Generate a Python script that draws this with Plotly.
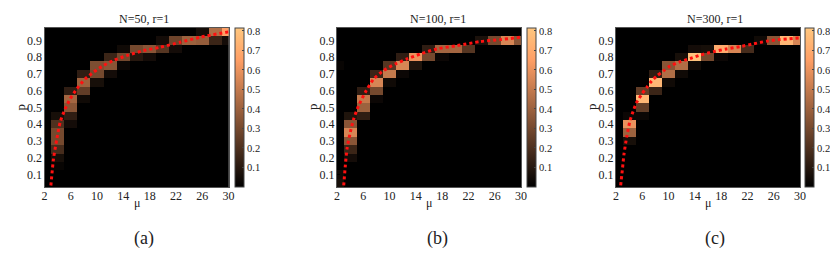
import plotly.graph_objects as go

# ---------------- data ----------------
mu_vals = [2, 4, 6, 8, 10, 12, 14, 16, 18, 20, 22, 24, 26, 28, 30]
p_vals = [0.95, 0.90, 0.85, 0.80, 0.75, 0.70, 0.65, 0.60, 0.55, 0.50,
          0.45, 0.40, 0.35, 0.30, 0.25, 0.20, 0.15, 0.10, 0.05]

titles = ["N=50, r=1", "N=100, r=1", "N=300, r=1"]
captions = ["(a)", "(b)", "(c)"]
x_ticks = [2, 6, 10, 14, 18, 22, 26, 30]
y_ticks = [0.1, 0.2, 0.3, 0.4, 0.5, 0.6, 0.7, 0.8, 0.9]
cb_ticks = [0.1, 0.2, 0.3, 0.4, 0.5, 0.6, 0.7, 0.8]

#            mu: 2    4     6     8     10    12    14    16    18    20    22    24    26    28    30
z_n50 = [
    [0,   0,    0,    0,    0,    0,    0,    0,    0,    0,    0,    0,    0.05, 0.45, 0.65],  # 0.95
    [0,   0,    0,    0,    0,    0,    0,    0,    0,    0.05, 0.28, 0.40, 0.38, 0.15, 0.05],  # 0.90
    [0,   0,    0,    0,    0,    0,    0.04, 0.30, 0.35, 0.22, 0.05, 0,    0,    0,    0],     # 0.85
    [0,   0,    0,    0,    0,    0.15, 0.30, 0.10, 0.05, 0,    0,    0,    0,    0,    0],     # 0.80
    [0,   0,    0,    0,    0.32, 0.35, 0.03, 0,    0,    0,    0,    0,    0,    0,    0],     # 0.75
    [0,   0,    0,    0.12, 0.30, 0.05, 0,    0,    0,    0,    0,    0,    0,    0,    0],     # 0.70
    [0,   0,    0,    0.40, 0.06, 0,    0,    0,    0,    0,    0,    0,    0,    0,    0],     # 0.65
    [0,   0,    0.12, 0.25, 0,    0,    0,    0,    0,    0,    0,    0,    0,    0,    0],     # 0.60
    [0,   0,    0.42, 0.04, 0,    0,    0,    0,    0,    0,    0,    0,    0,    0,    0],     # 0.55
    [0,   0,    0.35, 0,    0,    0,    0,    0,    0,    0,    0,    0,    0,    0,    0],     # 0.50
    [0,   0.06, 0.12, 0,    0,    0,    0,    0,    0,    0,    0,    0,    0,    0,    0],     # 0.45
    [0,   0.20, 0.05, 0,    0,    0,    0,    0,    0,    0,    0,    0,    0,    0,    0],     # 0.40
    [0,   0.30, 0,    0,    0,    0,    0,    0,    0,    0,    0,    0,    0,    0,    0],     # 0.35
    [0,   0.30, 0,    0,    0,    0,    0,    0,    0,    0,    0,    0,    0,    0,    0],     # 0.30
    [0,   0.18, 0,    0,    0,    0,    0,    0,    0,    0,    0,    0,    0,    0,    0],     # 0.25
    [0,   0.06, 0,    0,    0,    0,    0,    0,    0,    0,    0,    0,    0,    0,    0],     # 0.20
    [0,   0.02, 0,    0,    0,    0,    0,    0,    0,    0,    0,    0,    0,    0,    0],     # 0.15
    [0,   0,    0,    0,    0,    0,    0,    0,    0,    0,    0,    0,    0,    0,    0],     # 0.10
    [0,   0,    0,    0,    0,    0,    0,    0,    0,    0,    0,    0,    0,    0,    0],     # 0.05
]

z_n100 = [
    [0,    0,    0,    0,    0,    0,    0,    0,    0,    0,    0,    0,    0,    0,    0],     # 0.95
    [0,    0,    0,    0,    0,    0,    0,    0,    0,    0,    0,    0.07, 0.30, 0.55, 0.35],  # 0.90
    [0,    0,    0,    0,    0,    0,    0,    0.12, 0.42, 0.42, 0.22, 0,    0,    0,    0],     # 0.85
    [0,    0,    0,    0,    0,    0.12, 0.60, 0.30, 0.03, 0,    0,    0,    0,    0,    0],     # 0.80
    [0.02, 0,    0,    0,    0.22, 0.55, 0.08, 0,    0,    0,    0,    0,    0,    0,    0],     # 0.75
    [0,    0,    0,    0.15, 0.50, 0.03, 0,    0,    0,    0,    0,    0,    0,    0,    0],     # 0.70
    [0,    0,    0,    0.55, 0.04, 0,    0,    0,    0,    0,    0,    0,    0,    0,    0],     # 0.65
    [0,    0,    0.12, 0.30, 0,    0,    0,    0,    0,    0,    0,    0,    0,    0,    0],     # 0.60
    [0,    0,    0.50, 0.03, 0,    0,    0,    0,    0,    0,    0,    0,    0,    0,    0],     # 0.55
    [0,    0,    0.40, 0,    0,    0,    0,    0,    0,    0,    0,    0,    0,    0,    0],     # 0.50
    [0,    0.08, 0.12, 0,    0,    0,    0,    0,    0,    0,    0,    0,    0,    0,    0],     # 0.45
    [0,    0.35, 0,    0,    0,    0,    0,    0,    0,    0,    0,    0,    0,    0,    0],     # 0.40
    [0,    0.55, 0,    0,    0,    0,    0,    0,    0,    0,    0,    0,    0,    0,    0],     # 0.35
    [0,    0.35, 0,    0,    0,    0,    0,    0,    0,    0,    0,    0,    0,    0,    0],     # 0.30
    [0,    0.15, 0,    0,    0,    0,    0,    0,    0,    0,    0,    0,    0,    0,    0],     # 0.25
    [0,    0.05, 0,    0,    0,    0,    0,    0,    0,    0,    0,    0,    0,    0,    0],     # 0.20
    [0,    0,    0,    0,    0,    0,    0,    0,    0,    0,    0,    0,    0,    0,    0],     # 0.15
    [0.04, 0,    0,    0,    0,    0,    0,    0,    0,    0,    0,    0,    0,    0,    0],     # 0.10
    [0.06, 0,    0,    0,    0,    0,    0,    0,    0,    0,    0,    0,    0,    0,    0],     # 0.05
]

z_n300 = [
    [0,   0,    0,    0,    0,    0,    0,    0,    0,    0,    0,    0,    0,    0,    0],     # 0.95
    [0,   0,    0,    0,    0,    0,    0,    0,    0,    0,    0,    0.04, 0.35, 0.75, 0.55],  # 0.90
    [0,   0,    0,    0,    0,    0,    0.05, 0.06, 0.70, 0.55, 0.18, 0,    0,    0,    0],     # 0.85
    [0,   0,    0,    0,    0,    0.06, 0.80, 0.30, 0.03, 0,    0,    0,    0,    0,    0],     # 0.80
    [0,   0,    0,    0,    0.35, 0.45, 0.04, 0,    0,    0,    0,    0,    0,    0,    0],     # 0.75
    [0,   0,    0,    0.12, 0.45, 0.04, 0,    0,    0,    0,    0,    0,    0,    0,    0],     # 0.70
    [0,   0,    0,    0.75, 0.04, 0,    0,    0,    0,    0,    0,    0,    0,    0,    0],     # 0.65
    [0,   0,    0.25, 0.15, 0,    0,    0,    0,    0,    0,    0,    0,    0,    0,    0],     # 0.60
    [0,   0,    0.75, 0,    0,    0,    0,    0,    0,    0,    0,    0,    0,    0,    0],     # 0.55
    [0,   0,    0.25, 0,    0,    0,    0,    0,    0,    0,    0,    0,    0,    0,    0],     # 0.50
    [0,   0.03, 0.03, 0,    0,    0,    0,    0,    0,    0,    0,    0,    0,    0,    0],     # 0.45
    [0,   0.60, 0,    0,    0,    0,    0,    0,    0,    0,    0,    0,    0,    0,    0],     # 0.40
    [0,   0.40, 0,    0,    0,    0,    0,    0,    0,    0,    0,    0,    0,    0,    0],     # 0.35
    [0,   0.06, 0,    0,    0,    0,    0,    0,    0,    0,    0,    0,    0,    0,    0],     # 0.30
    [0,   0,    0,    0,    0,    0,    0,    0,    0,    0,    0,    0,    0,    0,    0],     # 0.25
    [0,   0,    0,    0,    0,    0,    0,    0,    0,    0,    0,    0,    0,    0,    0],     # 0.20
    [0,   0,    0,    0,    0,    0,    0,    0,    0,    0,    0,    0,    0,    0,    0],     # 0.15
    [0,   0,    0,    0,    0,    0,    0,    0,    0,    0,    0,    0,    0,    0,    0],     # 0.10
    [0,   0,    0,    0,    0,    0,    0,    0,    0,    0,    0,    0,    0,    0,    0],     # 0.05
]

# red dotted theoretical curves
curve_mu_n50 = [2.97, 3.37, 3.88, 4.39, 5.15, 5.91, 6.93, 8.19, 9.46, 10.98, 12.5, 14.5, 17.07, 19.6, 22.65, 25.7, 30.0]
curve_p_n50 = [0.034, 0.194, 0.313, 0.413, 0.492, 0.552, 0.612, 0.671, 0.711, 0.751, 0.781, 0.81, 0.84, 0.86, 0.89, 0.92, 0.952]

curve_mu_n100 = [3.02, 3.27, 3.52, 4.03, 4.54, 5.3, 6.31, 7.58, 9.1, 10.9, 12.66, 14.7, 17.2, 20.3, 23.8, 26.9, 30.0]
curve_p_n100 = [0.034, 0.154, 0.253, 0.353, 0.432, 0.512, 0.591, 0.671, 0.721, 0.761, 0.79, 0.82, 0.85, 0.87, 0.894, 0.906, 0.92]

curve_mu_n300 = [2.71, 3.0, 3.22, 3.62, 4.13, 4.63, 5.14, 5.91, 6.67, 7.43, 8.19, 9.2, 10.2, 11.7,
                 13.3, 14.8, 16.8, 18.8, 20.9, 22.9, 24.9, 26.9, 29.9]
curve_p_n300 = [0.035, 0.14, 0.223, 0.322, 0.421, 0.48, 0.53, 0.579, 0.619, 0.658, 0.688, 0.718, 0.747, 0.773,
                0.793, 0.813, 0.833, 0.85, 0.864, 0.88, 0.896, 0.906, 0.916]

# ---------------- styling ----------------
OFF = 0  # body margin is removed by the post script below
W, H = 830, 260
FONT = "Liberation Serif"
copper = [[0.0, "rgb(0,0,0)"], [0.8, "rgb(255,159,101)"], [1.0, "rgb(255,199,127)"]]
ZMAX = 0.815


def px(x):
    return (x - OFF) / W


def py(y):
    return 1 - (y - OFF) / H


panels = [
    dict(z=z_n50, cmu=curve_mu_n50, cp=curve_p_n50, x0=44.5, x1=228.5, cbx=235, tx=143.5),
    dict(z=z_n100, cmu=curve_mu_n100, cp=curve_p_n100, x0=337, x1=521, cbx=527, tx=437.5),
    dict(z=z_n300, cmu=curve_mu_n300, cp=curve_p_n300, x0=616, x1=800, cbx=805, tx=715),
]
top_px, bot_px = 28, 187
ydom = [py(bot_px), py(top_px)]

fig = go.Figure()
annotations = []
for i, pn in enumerate(panels):
    k = "" if i == 0 else str(i + 1)
    fig.add_trace(go.Heatmap(
        x=mu_vals, y=p_vals, z=pn["z"],
        colorscale=copper, zmin=0, zmax=ZMAX,
        xaxis="x" + k, yaxis="y" + k,
        colorbar=dict(
            x=px(pn["cbx"]), xanchor="left", xref="paper",
            y=sum(ydom) / 2, yanchor="middle",
            len=ydom[1] - ydom[0], lenmode="fraction",
            thickness=9, thicknessmode="pixels",
            xpad=0, ypad=0,
            outlinewidth=1, outlinecolor="#444",
            tickvals=cb_ticks, ticktext=[f"{v:.1f}" for v in cb_ticks],
            ticks="inside", ticklen=2, tickcolor="#444",
            tickfont=dict(family=FONT, size=10.5, color="#222"),
        ),
        showscale=True,
        hoverinfo="skip",
    ))
    fig.add_trace(go.Scatter(
        x=pn["cmu"], y=pn["cp"], mode="lines",
        line=dict(color="#ff1010", width=3, dash="3px,3px", shape="spline", smoothing=0.6),
        xaxis="x" + k, yaxis="y" + k, showlegend=False, hoverinfo="skip",
    ))
    axcommon = dict(showgrid=False, zeroline=False, showline=True, mirror=True,
                    linecolor="#555", linewidth=1, ticks="inside", ticklen=3,
                    tickcolor="black", automargin=False,
                    tickfont=dict(family=FONT, size=12, color="#222"))
    fig.update_layout(**{
        "xaxis" + k: dict(domain=[px(pn["x0"]), px(pn["x1"])], range=[2, 30],
                          tickvals=x_ticks, anchor="y" + k, ticklabelstandoff=-2,
                          **axcommon),
        "yaxis" + k: dict(domain=ydom, range=[0.025, 0.975],
                          tickvals=y_ticks, ticktext=[f"{v:.1f}" for v in y_ticks],
                          anchor="x" + k, ticklabelstandoff=-1, **axcommon),
    })
    cx = (pn["x0"] + pn["x1"]) / 2
    common = dict(xref="paper", yref="paper", showarrow=False,
                  xanchor="center", yanchor="middle")
    annotations += [
        dict(text=titles[i], x=px(pn["tx"]), y=py(19),
             font=dict(family=FONT, size=12, color="#222"), **common),
        dict(text="μ", x=px(cx), y=py(203),
             font=dict(family=FONT, size=12, color="#222"), **common),
        dict(text="p", x=px(pn["x0"] - 25), y=py(107), textangle=-90,
             font=dict(family=FONT, size=13, color="#222"), **common),
        dict(text=captions[i], x=px(pn["tx"]), y=py(238),
             font=dict(family=FONT, size=18, color="#222"), **common),
    ]

fig.update_layout(
    width=W, height=H,
    margin=dict(l=0, r=0, t=0, b=0, autoexpand=False),
    paper_bgcolor="white", plot_bgcolor="black",
    showlegend=False,
    annotations=annotations,
)

fig.write_html(
    "out.html",
    config={"displayModeBar": False, "staticPlot": True},
    post_script="document.body.style.margin='0px';document.body.style.overflow='hidden';",
)
